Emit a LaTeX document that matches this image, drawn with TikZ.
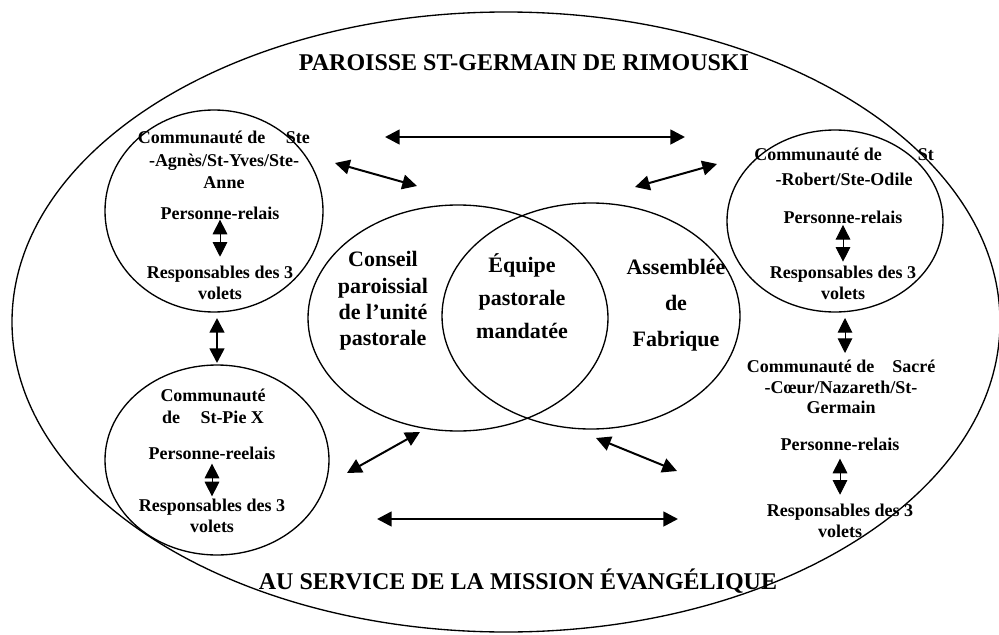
\documentclass[tikz,border=0pt]{standalone}
\usepackage{fontspec}
\setmainfont{Liberation Serif}
\usetikzlibrary{arrows.meta}

\begin{document}
\begin{tikzpicture}[x=0.75pt,y=-0.75pt,
    txt/.style={font=\bfseries\fontsize{13.5}{15.5}\selectfont,align=center,inner sep=0pt},
    big/.style={font=\bfseries\fontsize{16.5}{20}\selectfont,align=center,inner sep=0pt},
    ttl/.style={font=\bfseries\fontsize{18}{20}\selectfont,inner sep=0pt},
    dbl/.style={<->,>={Triangle[length=11pt,width=11pt]},line width=1.5pt},
    dblthin/.style={dbl,line width=0.7pt}]
  \useasboundingbox (0,0) rectangle (999,635);
  % outer ellipse and circles
  \draw[line width=1pt](506,322)ellipse[x radius=494,y radius=310];
  \draw[line width=1pt](214,211)ellipse[x radius=109,y radius=101];
  \draw[line width=1pt](217,460)ellipse[x radius=112,y radius=95];
  \draw[line width=1pt](835,221)ellipse[x radius=108,y radius=91];
  \draw[line width=1pt](458,318)ellipse[x radius=150,y radius=113];
  \draw[line width=1pt](591,316)ellipse[x radius=149,y radius=113];
  % titles
  \node[ttl](ttop) at (524,63){PAROISSE ST-GERMAIN DE RIMOUSKI};
  \node[ttl](tbot) at (518,581){AU SERVICE DE LA MISSION ÉVANGÉLIQUE};
  % centre
  \node[big,font=\bfseries\fontsize{16.5}{19.8}\selectfont](cons) at (383,301){Conseil\\paroissial\\de l’unité\\pastorale};
  \node[big,font=\bfseries\fontsize{16.5}{25}\selectfont](equ) at (522,296){Équipe\\pastorale\\mandatée};
  \node[big,font=\bfseries\fontsize{16.5}{27}\selectfont](ass) at (676,305){Assemblée\\de\\Fabrique};
  % communities
  \node[txt,font=\bfseries\fontsize{13.5}{16.9}\selectfont](tlcom) at (224,160){Communauté de\hspace{1.14em}Ste\\-Agnès/St-Yves/Ste-\\Anne};
  \node[txt](tlrel) at (220,213){Personne-relais};
  \node[txt](tlres) at (220,283){Responsables des 3\\volets};
  \node[txt,font=\bfseries\fontsize{13.5}{18.7}\selectfont](trcom) at (844,167){Communauté de\hspace{2em}St\\-Robert/Ste-Odile};
  \node[txt](trrel) at (843,217){Personne-relais};
  \node[txt](trres) at (843,283){Responsables des 3\\volets};
  \node[txt,font=\bfseries\fontsize{13.5}{15.4}\selectfont](brcom) at (841,387){Communauté de\hspace{1em}Sacré\\-Cœur/Nazareth/St-\\Germain};
  \node[txt](brrel) at (840,444){Personne-relais};
  \node[txt](brres) at (840,521){Responsables des 3\\volets};
  \node[txt,font=\bfseries\fontsize{13.5}{16.5}\selectfont](blcom) at (213,406){Communauté\\de\hspace{1.14em}St-Pie X};
  \node[txt](blrel) at (212,453){Personne-reelais};
  \node[txt](blres) at (212,516){Responsables des 3\\volets};
  % arrow ends
  \coordinate (h1) at (385,137); \coordinate (h2) at (685,137);
  \coordinate (h3) at (377,519); \coordinate (h4) at (678,519);
  \coordinate (d1) at (335,163); \coordinate (d2) at (417,186);
  \coordinate (d3) at (635,187); \coordinate (d4) at (717,164);
  \coordinate (d5) at (347,473); \coordinate (d6) at (420,432);
  \coordinate (d7) at (596,438); \coordinate (d8) at (677,471);
  \coordinate (v1) at (217,318); \coordinate (v2) at (217,363);
  \coordinate (v3) at (845,318); \coordinate (v4) at (845,353);
  % arrows
  \draw[dbl,line width=2pt](h1)--(h2);
  \draw[dbl,line width=2pt](h3)--(h4);
  \draw[dbl](d1)--(d2);
  \draw[dbl](d3)--(d4);
  \draw[dbl](d5)--(d6);
  \draw[dbl](d7)--(d8);
  \draw[dbl,line width=2pt](v1)--(v2);
  \draw[dblthin](v3)--(v4);
  \draw[dblthin,shorten >=7pt](tlrel)--(tlres);
  \draw[dblthin,shorten <=1pt,shorten >=3.3pt](trrel)--(trres);
  \draw[dblthin,shorten <=6pt,shorten >=7pt](brrel)--(brres);
  \draw[dblthin,shorten <=3pt,shorten >=2pt](blrel)--(blres);
\end{tikzpicture}
\end{document}
